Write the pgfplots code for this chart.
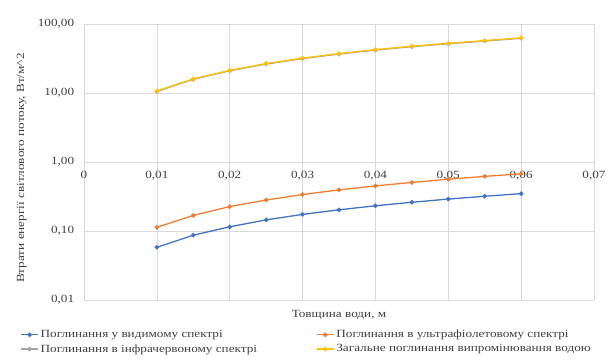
\documentclass[border=0pt]{standalone}
\usepackage{pgfplots}
\pgfplotsset{compat=1.18}
\usepackage{fontspec}
\setmainfont{Liberation Serif}[FakeStretch=1.2]
\definecolor{cblue}{HTML}{4472C4}
\definecolor{corange}{HTML}{ED7D31}
\definecolor{cgray}{HTML}{A5A5A5}
\definecolor{cyellow}{HTML}{FFC000}
\definecolor{cgrid}{HTML}{D9D9D9}
\begin{document}
\fontsize{11bp}{13bp}\selectfont
\begin{tikzpicture}
\path[use as bounding box] (-84bp,-62bp) rectangle (525bp,300bp);
\begin{axis}[
  scale only axis, width=510bp, height=276bp,
  ymode=log, ymin=0.01, ymax=100, xmin=0, xmax=0.07,
  axis x line=middle, axis y line=left,
  hide obscured x ticks=false,
  scaled x ticks=false,
  x axis line style={-, draw=cgrid, line width=0.8pt},
  y axis line style={draw=none},
  major tick length=0pt, yminorticks=false,
  grid=major, major grid style={cgrid, line width=0.6pt},
  xtick={0,0.01,0.02,0.03,0.04,0.05,0.06,0.07},
  xticklabels={0,{0,01},{0,02},{0,03},{0,04},{0,05},{0,06},{0,07}},
  ytick={0.01,0.1,1,10,100},
  yticklabels={{0,01},{0,10},{1,00},{10,00},{100,00}},
  tick label style={font=\fontsize{11bp}{13bp}\selectfont, text=black!75},
  xticklabel style={yshift=-5bp},
  yticklabel style={xshift=-6bp},
  xlabel={Товщина води, м},
  xlabel style={at={(axis description cs:0.5,0)}, anchor=center, yshift=-15bp, text=black!75},
  ylabel={Втрати енергії світлового потоку, Вт/м\^{}2},
  ylabel style={at={(axis description cs:-0.122,0.478)}, anchor=center, rotate=0, text=black!75},
  legend columns=2,
  legend style={at={(axis description cs:-0.131,-0.094)}, anchor=north west, draw=none, fill=none,
    font=\fontsize{11bp}{13bp}\selectfont, text=black!75, row sep=1bp,
    /tikz/every even column/.append style={column sep=57bp}},
  legend cell align=left,
  every axis plot/.append style={line width=1.3pt, mark=*, mark size=1.6pt},
]
\addplot[color=cblue, mark options={fill=cblue}] coordinates {
(0.01,0.058)(0.015,0.087)(0.02,0.115)(0.025,0.145)(0.03,0.174)(0.035,0.203)(0.04,0.232)(0.045,0.261)(0.05,0.29)(0.055,0.319)(0.06,0.348)};
\addlegendentry{Поглинання у видимому спектрі}
\addplot[color=corange, mark options={fill=corange}] coordinates {
(0.01,0.113)(0.015,0.168)(0.02,0.226)(0.025,0.281)(0.03,0.338)(0.035,0.394)(0.04,0.45)(0.045,0.506)(0.05,0.563)(0.055,0.619)(0.06,0.675)};
\addlegendentry{Поглинання в ультрафіолетовому спектрі}
\addplot[color=cgray, mark options={fill=cgray}] coordinates {
(0.01,10.53)(0.015,15.75)(0.02,20.96)(0.025,26.27)(0.03,31.49)(0.035,36.70)(0.04,41.82)(0.045,46.93)(0.05,51.65)(0.055,56.56)(0.06,61.98)};
\addlegendentry{Поглинання в інфрачервоному спектрі}
\addplot[color=cyellow, mark options={fill=cyellow}] coordinates {
(0.01,10.7)(0.015,16.0)(0.02,21.3)(0.025,26.7)(0.03,32.0)(0.035,37.3)(0.04,42.5)(0.045,47.7)(0.05,52.5)(0.055,57.5)(0.06,63.0)};
\addlegendentry{Загальне поглинання випромінювання водою}
\end{axis}
\end{tikzpicture}
\end{document}
